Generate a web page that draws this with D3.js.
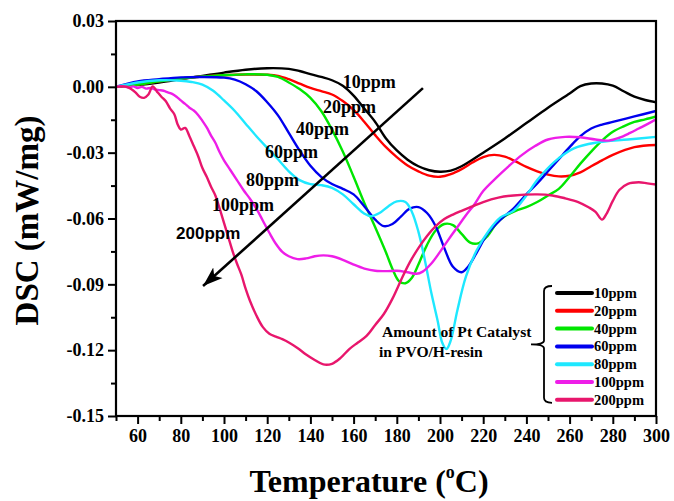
<!DOCTYPE html>
<html><head><meta charset="utf-8">
<script src="https://cdn.jsdelivr.net/npm/d3@7"></script>
<style>body{margin:0;background:#fff} svg{display:block}</style>
</head><body>
<svg id="c" width="674" height="501"></svg>
<script>
// ---------- data ----------
const xTicks = [60,80,100,120,140,160,180,200,220,240,260,280,300];
const xTickLabels = ["60","80","100","120","140","160","180","200","220","240","260","280","300"];
const xMinor = [50,70,90,110,130,150,170,190,210,230,250,270,290];
const yTicks = [0.03,0.00,-0.03,-0.06,-0.09,-0.12,-0.15];
const yTickLabels = ["0.03","0.00","-0.03","-0.06","-0.09","-0.12","-0.15"];
const yMinor = [0.015,-0.015,-0.045,-0.075,-0.105,-0.135];

const seriesNames = ["10ppm","20ppm","40ppm","60ppm","80ppm","100ppm","200ppm"];
const seriesColors = ["#000000","#ff0000","#00e600","#0000ee","#1ee8ff","#ee1ee8","#e8166c"];

const s10 = [[50,0],[60,0.0008],[70,0.002],[80,0.0035],[90,0.005],[100,0.0065],[110,0.0078],[120,0.0085],[130,0.0082],[135,0.0072],[140,0.0058],[145,0.0045],[150,0.003],[155,0.0005],[160,-0.004],[165,-0.010],[170,-0.016],[175,-0.0235],[180,-0.029],[185,-0.0332],[190,-0.0362],[195,-0.038],[200,-0.0387],[205,-0.0382],[210,-0.0362],[215,-0.0332],[220,-0.030],[230,-0.0235],[240,-0.0165],[250,-0.0095],[260,-0.003],[265,0.0003],[270,0.0015],[275,0.0015],[280,0.0005],[285,-0.002],[290,-0.0045],[295,-0.006],[300,-0.007]];
const s20 = [[50,0],[60,0.001],[70,0.0025],[80,0.0038],[90,0.0047],[100,0.0053],[110,0.0056],[120,0.0055],[125,0.005],[130,0.0035],[135,0.0015],[140,-0.0005],[145,-0.002],[150,-0.0035],[155,-0.0065],[160,-0.0105],[165,-0.016],[170,-0.022],[175,-0.0275],[180,-0.032],[185,-0.0358],[190,-0.0385],[195,-0.0405],[200,-0.041],[205,-0.0398],[210,-0.0375],[215,-0.0345],[220,-0.032],[225,-0.031],[230,-0.0318],[235,-0.034],[240,-0.0365],[245,-0.0385],[250,-0.040],[255,-0.0408],[260,-0.0405],[265,-0.039],[270,-0.0362],[275,-0.0335],[280,-0.031],[290,-0.0275],[300,-0.0265]];
const s40 = [[50,0],[60,0.001],[70,0.0025],[80,0.0038],[90,0.0047],[100,0.0053],[110,0.0057],[120,0.0055],[125,0.0045],[130,0.002],[135,-0.001],[140,-0.005],[145,-0.011],[150,-0.0195],[155,-0.0295],[160,-0.041],[165,-0.053],[170,-0.064],[175,-0.0755],[178,-0.083],[181,-0.0885],[184,-0.0895],[187,-0.087],[190,-0.081],[194,-0.072],[198,-0.0655],[202,-0.0625],[206,-0.063],[210,-0.067],[214,-0.071],[218,-0.0712],[222,-0.068],[226,-0.0625],[230,-0.059],[235,-0.0565],[240,-0.0548],[245,-0.0525],[250,-0.0495],[255,-0.0465],[260,-0.041],[265,-0.035],[270,-0.0295],[275,-0.0245],[280,-0.0205],[285,-0.018],[290,-0.016],[295,-0.0148],[300,-0.0135]];
const s60 = [[50,0],[60,0.0025],[70,0.0035],[80,0.0043],[90,0.0045],[100,0.0042],[105,0.0033],[110,0.0012],[115,-0.002],[120,-0.007],[125,-0.013],[130,-0.021],[135,-0.029],[140,-0.036],[145,-0.041],[150,-0.0443],[155,-0.0465],[160,-0.049],[165,-0.0545],[170,-0.0605],[174,-0.0635],[178,-0.0625],[182,-0.059],[186,-0.0555],[190,-0.0548],[194,-0.0575],[198,-0.0635],[202,-0.0735],[206,-0.082],[210,-0.0845],[213,-0.082],[217,-0.0755],[222,-0.067],[228,-0.0605],[234,-0.0555],[240,-0.049],[245,-0.044],[250,-0.0385],[255,-0.033],[260,-0.0275],[265,-0.0225],[270,-0.019],[275,-0.0172],[280,-0.016],[290,-0.0135],[300,-0.011]];
const s80 = [[50,0],[60,0.002],[70,0.003],[80,0.0028],[85,0.0022],[90,0.001],[95,-0.0018],[100,-0.0062],[105,-0.011],[110,-0.0168],[115,-0.0225],[120,-0.0278],[125,-0.033],[130,-0.0385],[135,-0.0425],[140,-0.0443],[145,-0.0448],[150,-0.046],[155,-0.049],[160,-0.0535],[165,-0.0578],[168,-0.059],[172,-0.0575],[176,-0.0545],[180,-0.0522],[184,-0.0525],[187,-0.057],[190,-0.066],[193,-0.079],[196,-0.094],[199,-0.107],[201,-0.1165],[203,-0.1195],[205,-0.1155],[208,-0.102],[212,-0.0865],[217,-0.0745],[223,-0.065],[228,-0.0595],[234,-0.0565],[240,-0.0495],[245,-0.0425],[250,-0.037],[255,-0.0325],[262,-0.028],[272,-0.0255],[287,-0.024],[300,-0.0228]];
const s100 = [[50,0],[53,0.0003],[56,-0.0002],[58,0.0002],[60,-0.0005],[62,0.0],[64,-0.0008],[66,-0.0005],[68,-0.0012],[70,-0.0015],[72,-0.0018],[74,-0.0025],[76,-0.0032],[78,-0.0045],[80,-0.0062],[82,-0.0078],[84,-0.0095],[86,-0.0108],[88,-0.0128],[90,-0.0155],[92,-0.0185],[94,-0.0222],[96,-0.0255],[98,-0.0298],[100,-0.0335],[103,-0.038],[106,-0.0425],[109,-0.047],[112,-0.051],[115,-0.0555],[118,-0.061],[121,-0.0665],[124,-0.0715],[127,-0.0752],[130,-0.0772],[134,-0.0785],[138,-0.0782],[142,-0.0772],[146,-0.0768],[150,-0.0772],[155,-0.0788],[160,-0.081],[165,-0.0828],[170,-0.0838],[175,-0.084],[180,-0.0838],[185,-0.0845],[189,-0.0852],[192,-0.0842],[196,-0.0805],[200,-0.0752],[204,-0.0695],[208,-0.064],[212,-0.0585],[216,-0.0535],[220,-0.0475],[226,-0.0415],[232,-0.036],[238,-0.031],[244,-0.027],[250,-0.024],[258,-0.0228],[265,-0.023],[272,-0.024],[278,-0.0245],[283,-0.0232],[288,-0.021],[292,-0.019],[296,-0.017],[300,-0.0148]];
const s200 = [[50,0],[53,0.0002],[55,0],[57,-0.001],[59,-0.0025],[61,-0.0045],[63,-0.005],[65,-0.0035],[67,0.0002],[69,-0.0022],[71,-0.0045],[73,-0.0065],[75,-0.0098],[77,-0.0125],[78.5,-0.017],[80,-0.0195],[82,-0.0187],[84,-0.0225],[86,-0.027],[88,-0.0315],[90,-0.037],[92,-0.041],[94,-0.0455],[96,-0.0495],[98,-0.0555],[100,-0.062],[102,-0.0685],[104,-0.075],[106,-0.0805],[108,-0.0855],[110,-0.092],[112,-0.0975],[115,-0.1042],[118,-0.1095],[121,-0.1125],[124,-0.1138],[127,-0.115],[130,-0.1165],[134,-0.119],[138,-0.122],[142,-0.1245],[146,-0.1265],[150,-0.1262],[154,-0.1235],[158,-0.1195],[162,-0.1165],[166,-0.1135],[170,-0.1085],[174,-0.1035],[178,-0.0965],[182,-0.088],[186,-0.080],[190,-0.0735],[194,-0.068],[198,-0.0635],[202,-0.0602],[206,-0.0582],[210,-0.0565],[215,-0.0545],[220,-0.0525],[227,-0.0505],[234,-0.0495],[245,-0.049],[252,-0.0495],[258,-0.0508],[264,-0.0525],[269,-0.055],[272,-0.057],[275,-0.0605],[277,-0.058],[280,-0.052],[283,-0.047],[287,-0.0442],[292,-0.0435],[296,-0.044],[300,-0.0445]];
const seriesData = [s10,s20,s40,s60,s80,s100,s200];

// in-plot annotation labels (data coordinates of text start / baseline)
const annoLabels = [
  {t:"10ppm", T:155, v:-0.0006, sans:false},
  {t:"20ppm", T:145.8, v:-0.0119, sans:false},
  {t:"40ppm", T:133.3, v:-0.0219, sans:false},
  {t:"60ppm", T:119, v:-0.0323, sans:false},
  {t:"80ppm", T:110.2, v:-0.0454, sans:false},
  {t:"100ppm", T:94.4, v:-0.0568, sans:false},
  {t:"200ppm", T:77.8, v:-0.0695, sans:true}
];
const arrowFrom = [192.1, -0.0006];
const arrowTo = [90.3, -0.0908];

// ---------- layout ----------
const W = 674, H = 501;
const m = {top:21, right:18, bottom:85, left:116};
const svg = d3.select("#c");
const x = d3.scaleLinear().domain([50,300]).range([m.left, W-m.right]);
const y = d3.scaleLinear().domain([-0.15,0.03]).range([H-m.bottom, m.top]);
const serif = "'Liberation Serif','Times New Roman',serif";

svg.append("defs").append("clipPath").attr("id","clip")
  .append("rect").attr("x",m.left).attr("y",m.top)
  .attr("width",x(300)-x(50)).attr("height",y(-0.15)-y(0.03));

// lines
const line = d3.line().x(d=>x(d[0])).y(d=>y(d[1])).curve(d3.curveCatmullRom.alpha(0.5));
const lg = svg.append("g").attr("clip-path","url(#clip)");
seriesData.forEach((s,i)=>{
  lg.append("path").datum(s).attr("d",line)
    .attr("fill","none").attr("stroke",seriesColors[i])
    .attr("stroke-width",2.4).attr("stroke-linejoin","round");
});

// axes
function styleAxis(g){
  g.selectAll(".tick line").attr("stroke","#000").attr("stroke-width",2);
  g.selectAll(".tick text").attr("font-family",serif).attr("font-weight","bold")
    .attr("font-size",18).attr("fill","#000");
  g.select(".domain").remove();
}
const gx = svg.append("g").attr("transform",`translate(0,${y(-0.15)})`)
  .call(d3.axisBottom(x).tickValues(xTicks).tickFormat((d,i)=>xTickLabels[i]).tickSize(8).tickPadding(5));
styleAxis(gx);
const gxm = svg.append("g").attr("transform",`translate(0,${y(-0.15)})`)
  .call(d3.axisBottom(x).tickValues(xMinor).tickFormat("").tickSize(5));
styleAxis(gxm);
const gy = svg.append("g").attr("transform",`translate(${x(50)},0)`)
  .call(d3.axisLeft(y).tickValues(yTicks).tickFormat((d,i)=>yTickLabels[i]).tickSize(8).tickPadding(4));
styleAxis(gy);
const gym = svg.append("g").attr("transform",`translate(${x(50)},0)`)
  .call(d3.axisLeft(y).tickValues(yMinor).tickFormat("").tickSize(5));
styleAxis(gym);

// frame
svg.append("rect").attr("x",x(50)).attr("y",y(0.03))
  .attr("width",x(300)-x(50)).attr("height",y(-0.15)-y(0.03))
  .attr("fill","none").attr("stroke","#000").attr("stroke-width",2.2);

// axis titles
svg.append("text").attr("transform",`translate(38,${(y(0.03)+y(-0.15))/2+2}) rotate(-90)`)
  .attr("text-anchor","middle").attr("font-family",serif).attr("font-weight","bold")
  .attr("font-size",33).text("DSC (mW/mg)");
const xt = svg.append("text").attr("x",369).attr("y",492).attr("text-anchor","middle")
  .attr("font-family",serif).attr("font-weight","bold").attr("font-size",32);
xt.append("tspan").text("Temperature (");
xt.append("tspan").attr("font-size",18).attr("dy",-14).text("o");
xt.append("tspan").attr("dy",14).text("C)");

// annotations
annoLabels.forEach(a=>{
  svg.append("text").attr("x",x(a.T)).attr("y",y(a.v))
    .attr("font-family", a.sans ? "'Liberation Sans',Arial,sans-serif" : serif)
    .attr("font-weight","bold").attr("font-size", a.sans ? 17 : 18).text(a.t);
});
svg.select("defs").append("marker").attr("id","ah")
  .attr("markerUnits","userSpaceOnUse").attr("markerWidth",22).attr("markerHeight",16)
  .attr("refX",20).attr("refY",8).attr("orient","auto")
  .append("path").attr("d","M0,1 L20,8 L0,15 L5,8 Z").attr("fill","#000");
svg.append("line").attr("x1",x(arrowFrom[0])).attr("y1",y(arrowFrom[1]))
  .attr("x2",x(arrowTo[0])).attr("y2",y(arrowTo[1]))
  .attr("stroke","#000").attr("stroke-width",2.6).attr("marker-end","url(#ah)");

// legend
const lgx0 = 557, lgx1 = 592, lgy0 = 293, lgdy = 17.8;
const leg = svg.append("g");
seriesNames.forEach((n,i)=>{
  const yy = lgy0 + i*lgdy;
  leg.append("line").attr("x1",lgx0).attr("x2",lgx1).attr("y1",yy).attr("y2",yy)
    .attr("stroke",seriesColors[i]).attr("stroke-width",4).attr("stroke-linecap","round");
  leg.append("text").attr("x",lgx1+2).attr("y",yy+5)
    .attr("font-family",serif).attr("font-weight","bold").attr("font-size",14.5).text(n);
});
const yTop = lgy0-7, yBot = lgy0+6*lgdy+3, yMid = (yTop+yBot)/2;
leg.append("path")
  .attr("d",`M552,${yTop} Q544,${yTop} 544,${yTop+5} L544,${yMid-4} Q544,${yMid} 531,${yMid} Q544,${yMid} 544,${yMid+4} L544,${yBot-5} Q544,${yBot} 552,${yBot}`)
  .attr("fill","none").attr("stroke","#000").attr("stroke-width",1.8);
leg.append("text").attr("x",382).attr("y",337).attr("font-family",serif)
  .attr("font-weight","bold").attr("font-size",15.6).text("Amount of Pt Catalyst");
leg.append("text").attr("x",379).attr("y",357).attr("font-family",serif)
  .attr("font-weight","bold").attr("font-size",15.6).text("in PVO/H-resin");
</script>
</body></html>
